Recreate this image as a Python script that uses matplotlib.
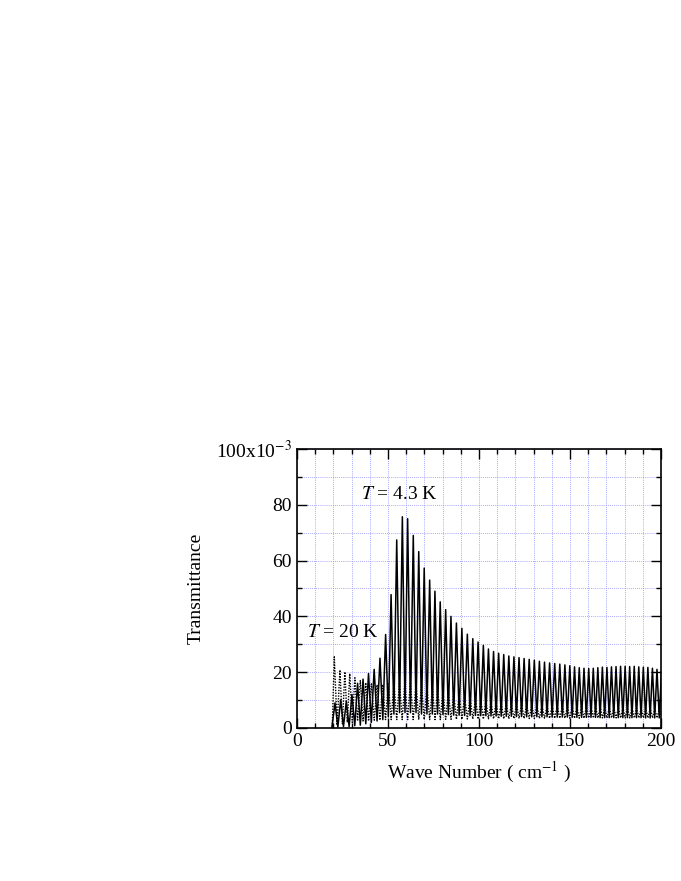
import matplotlib
matplotlib.use('Agg')
import matplotlib.pyplot as plt
from matplotlib.ticker import MultipleLocator

plt.rcParams['font.family'] = ['Liberation Serif', 'DejaVu Serif']
plt.rcParams['mathtext.fontset'] = 'stix'

# T = 4.3 K (solid): fringe maxima, and the minimum that follows each one (x1e-3)
solid_start = (19.2, 0.3)
solid_peak_x = [20.9, 24.0, 27.1, 30.2, 33.3, 36.3, 39.3, 42.4, 45.6, 48.7,
                51.7, 54.8, 57.9, 60.8, 63.9, 66.9, 69.9, 72.9, 75.8, 78.7,
                81.7, 84.6, 87.6, 90.6, 93.6, 96.6, 99.5, 102.4, 105.2, 108.0,
                110.8, 113.6, 116.4, 119.2, 122.0, 124.8, 127.6, 130.4, 133.2, 136.0,
                138.8, 141.6, 144.4, 147.2, 149.9, 152.5, 155.1, 157.7, 160.3, 162.8,
                165.3, 167.8, 170.3, 172.8, 175.3, 177.8, 180.3, 182.8, 185.3, 187.8,
                190.3, 192.8, 195.3, 197.8, 200.3]
solid_peak_y = [9.0, 10.0, 9.5, 12.0, 16.0, 17.5, 19.5, 21.0, 25.0, 33.5,
                47.8, 67.4, 75.7, 75.0, 69.0, 63.2, 57.3, 53.0, 49.0, 45.2,
                42.4, 40.0, 37.6, 35.7, 33.6, 32.0, 30.8, 29.6, 28.3, 27.4,
                26.8, 26.3, 25.8, 25.5, 25.2, 24.9, 24.6, 24.3, 23.9, 23.6,
                23.3, 23.1, 22.9, 22.6, 22.3, 21.9, 21.6, 21.4, 21.3, 21.4,
                21.6, 21.8, 21.7, 21.9, 22.0, 22.1, 22.1, 22.0, 22.1, 21.9,
                21.8, 21.7, 21.4, 21.0, 20.5]
solid_min_y = [0.3, 0.5, 0.5, 0.8, 1.0, 1.5, 2.0, 2.5, 3.0, 4.0,
               5.0, 5.5, 5.5, 5.5, 5.5, 5.0, 5.0, 5.0, 5.0, 4.8,
               4.8, 4.6, 4.6, 4.5, 4.5, 4.5, 4.4, 4.4, 4.3, 4.3,
               4.2, 4.2, 4.2, 4.1, 4.1, 4.0, 4.0, 4.0, 4.0, 4.0,
               3.9, 3.9, 3.9, 3.9, 3.8, 3.8, 3.8, 3.8, 3.8, 3.8,
               3.7, 3.7, 3.7, 3.7, 3.7, 3.7, 3.7, 3.7, 3.7, 3.7,
               3.6, 3.6, 3.6, 3.6, 3.6]

# T = 20 K (dotted)
dot_start = (19.4, 0.5)
dot_peak_x = [20.5, 23.6, 26.3, 29.0, 31.8, 34.8, 37.8, 40.9, 44.0, 47.1,
              50.2, 53.3, 56.3, 59.3, 62.3, 65.4, 68.4, 71.4, 74.4, 77.3,
              80.2, 83.2, 86.1, 89.1, 92.1, 95.1, 98.1, 101.0, 103.8, 106.6,
              109.4, 112.2, 115.0, 117.8, 120.6, 123.4, 126.2, 129.0, 131.8, 134.6,
              137.4, 140.2, 143.0, 145.8, 148.6, 151.2, 153.8, 156.4, 159.0, 161.6,
              164.1, 166.6, 169.1, 171.6, 174.1, 176.6, 179.1, 181.6, 184.1, 186.6,
              189.1, 191.6, 194.1, 196.6, 199.1]
dot_peak_y = [25.5, 20.8, 20.1, 19.5, 18.0, 17.0, 16.2, 15.8, 15.5, 15.6,
              15.8, 16.0, 16.3, 16.5, 16.4, 16.0, 15.6, 15.0, 14.5, 14.0,
              13.4, 12.9, 12.4, 11.9, 11.4, 10.9, 10.5, 10.1, 9.8, 9.5,
              9.3, 9.1, 8.9, 8.7, 8.6, 8.5, 8.4, 8.3, 8.2, 8.1,
              8.0, 7.9, 7.9, 7.8, 7.7, 7.7, 7.6, 7.6, 7.5, 7.5,
              7.4, 7.4, 7.3, 7.3, 7.3, 7.2, 7.2, 7.2, 7.1, 7.1,
              7.0, 7.0, 7.0, 6.9, 6.9]
dot_min_y = [1.0, 1.5, 2.0, 2.0, 2.5, 2.5, 2.5, 2.8, 2.8, 3.0,
             3.0, 3.0, 3.0, 3.0, 3.0, 3.0, 3.0, 3.0, 3.0, 3.0,
             3.1, 3.1, 3.1, 3.1, 3.2, 3.2, 3.2, 3.2, 3.3, 3.3,
             3.3, 3.3, 3.3, 3.4, 3.4, 3.4, 3.4, 3.4, 3.4, 3.5,
             3.5, 3.5, 3.5, 3.5, 3.5, 3.5, 3.5, 3.5, 3.6, 3.6,
             3.6, 3.6, 3.6, 3.6, 3.6, 3.6, 3.6, 3.6, 3.6, 3.6,
             3.6, 3.6, 3.6, 3.6, 3.6]

y_ticks = [0, 20, 40, 60, 80, 100]
y_tick_labels = ['0', '20', '40', '60', '80', '100x10$^{-3}$']
x_ticks = [0, 50, 100, 150, 200]


def fringe_curve(start, peak_x, peak_y, min_y):
    # all y values are given in units of 1e-3
    xs = [start[0]]
    ys = [start[1] * 1e-3]
    for i in range(len(peak_x)):
        xs.append(peak_x[i])
        ys.append(peak_y[i] * 1e-3)
        if i < len(peak_x) - 1:
            xs.append(0.5 * (peak_x[i] + peak_x[i + 1]))
        else:
            xs.append(peak_x[i] + 1.3)
        ys.append(min_y[i] * 1e-3)
    return xs, ys


fig = plt.figure(figsize=(6.81, 8.81), dpi=100)
ax = fig.add_axes([0.4361, 0.1737, 0.5345, 0.3167])

x1, y1 = fringe_curve(dot_start, dot_peak_x, dot_peak_y, dot_min_y)
ax.plot(x1, y1, color='black', lw=1.0, ls=(0, (1, 1)))
x2, y2 = fringe_curve(solid_start, solid_peak_x, solid_peak_y, solid_min_y)
ax.plot(x2, y2, color='black', lw=1.1)

ax.set_xlim(0, 200)
ax.set_ylim(0, 0.1)

ax.set_xticks(x_ticks)
ax.set_yticks([v * 1e-3 for v in y_ticks])
ax.set_yticklabels(y_tick_labels)
ax.xaxis.set_minor_locator(MultipleLocator(10))
ax.yaxis.set_minor_locator(MultipleLocator(0.01))

ax.grid(True, which='both', color='#8c8cff', ls=(0, (1, 1.5)), lw=0.6)
ax.set_axisbelow(True)

ax.tick_params(which='both', direction='in', top=True, right=True,
               labelsize=14, width=1.0)
ax.tick_params(which='major', length=7)
ax.tick_params(which='minor', length=3.5)
for s in ax.spines.values():
    s.set_linewidth(1.2)

ax.set_xlabel('Wave Number ( cm$^{-1}$ )', fontsize=14, labelpad=7)
ax.set_ylabel('Transmittance', fontsize=14, labelpad=8)

ax.text(56.5, 0.0835, '$T$ = 4.3 K', fontsize=14, ha='center', va='center')
ax.text(25.5, 0.0343, '$T$ = 20 K', fontsize=14, ha='center', va='center')

fig.savefig('out.png', dpi=100)
